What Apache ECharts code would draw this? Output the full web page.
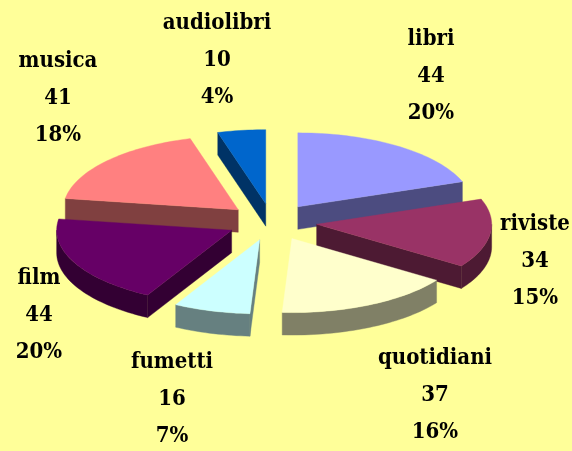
<!DOCTYPE html>
<html>
<head>
<meta charset="utf-8">
<style>html,body{margin:0;padding:0;background:#FFFF99}#c{width:572px;height:451px}</style>
<script src="https://cdn.jsdelivr.net/npm/echarts@6/dist/echarts.min.js"></script>
</head>
<body>
<div id="c"></div>
<script>
const categories = ['libri', 'riviste', 'quotidiani', 'fumetti', 'film', 'musica', 'audiolibri'];
const values = [44, 34, 37, 16, 44, 41, 10];
const percentLabels = ['20%', '15%', '16%', '7%', '20%', '18%', '4%'];
const faceColors = ['#9999FF', '#993366', '#FFFFCC', '#CCFFFF', '#660066', '#FF8080', '#0066CC'];
const wallColors = ['#4C4C80', '#4D1A33', '#808066', '#668080', '#330033', '#804040', '#003366'];
const labelCentres = [[431, 76], [535, 261], [435, 395], [172, 399], [39, 315], [58, 98], [217, 60]];

const pie = { cx: 272, cy: 222, rx: 175, ry: 74, depth: 22.5, explodeX: 45, explodeY: 18.5 };
const total = values.reduce((a, b) => a + b, 0);
const rad = Math.PI / 180;

let run = 0;
const slices = values.map((v, i) => {
  const a0 = run / total * 360;
  run += v;
  const a1 = run / total * 360;
  const mid = (a0 + a1) / 2 * rad;
  return {
    i, a0, a1,
    x: pie.cx + pie.explodeX * Math.sin(mid),
    y: pie.cy - pie.explodeY * Math.cos(mid)
  };
});
const paintOrder = slices.slice().sort((p, q) => p.y - q.y).map(s => s.i);

function rim(s, from, to, dy) {
  const pts = [];
  const n = Math.max(2, Math.ceil((to - from) / 1.5));
  for (let k = 0; k <= n; k++) {
    const a = (from + (to - from) * k / n) * rad;
    pts.push([s.x + pie.rx * Math.sin(a), s.y - pie.ry * Math.cos(a) + dy]);
  }
  return pts;
}
function poly(points, color) {
  return { type: 'polygon', shape: { points }, style: { fill: color, stroke: color, lineWidth: 0.4 } };
}
function radialWall(s, a, color) {
  const p = rim(s, a, a, 0)[0];
  return poly([[s.x, s.y], p, [p[0], p[1] + pie.depth], [s.x, s.y + pie.depth]], color);
}
function renderSlice(params, api) {
  const s = slices[api.value(0)];
  const wall = wallColors[s.i];
  const children = [];
  const eps = 1e-6;
  if (Math.sin(s.a0 * rad) < -eps) children.push(radialWall(s, s.a0, wall));
  if (Math.sin(s.a1 * rad) > eps) children.push(radialWall(s, s.a1, wall));
  const from = Math.max(s.a0, 90), to = Math.min(s.a1, 270);
  if (to > from) {
    children.push(poly(rim(s, from, to, 0).concat(rim(s, from, to, pie.depth).reverse()), wall));
  }
  children.push(poly([[s.x, s.y]].concat(rim(s, s.a0, s.a1, 0)), faceColors[s.i]));
  return { type: 'group', children };
}
function renderLabel(params, api) {
  const i = api.value(0);
  return {
    type: 'text', z2: 100,
    x: labelCentres[i][0], y: labelCentres[i][1],
    style: {
      text: categories[i] + '\n' + values[i] + '\n' + percentLabels[i],
      fill: '#000', align: 'center', verticalAlign: 'middle',
      font: 'bold 22px "DejaVu Serif Condensed"', lineHeight: 37
    }
  };
}
const chart = echarts.init(document.getElementById('c'), null, { renderer: 'canvas' });
chart.setOption({
  backgroundColor: '#FFFF99',
  animation: false,
  series: [
    { type: 'custom', coordinateSystem: 'none', silent: true, z: 2,
      data: paintOrder.map(i => [i]), renderItem: renderSlice },
    { type: 'custom', coordinateSystem: 'none', silent: true, z: 3,
      data: categories.map((c, i) => [i]), renderItem: renderLabel }
  ]
});
</script>
</body>
</html>
